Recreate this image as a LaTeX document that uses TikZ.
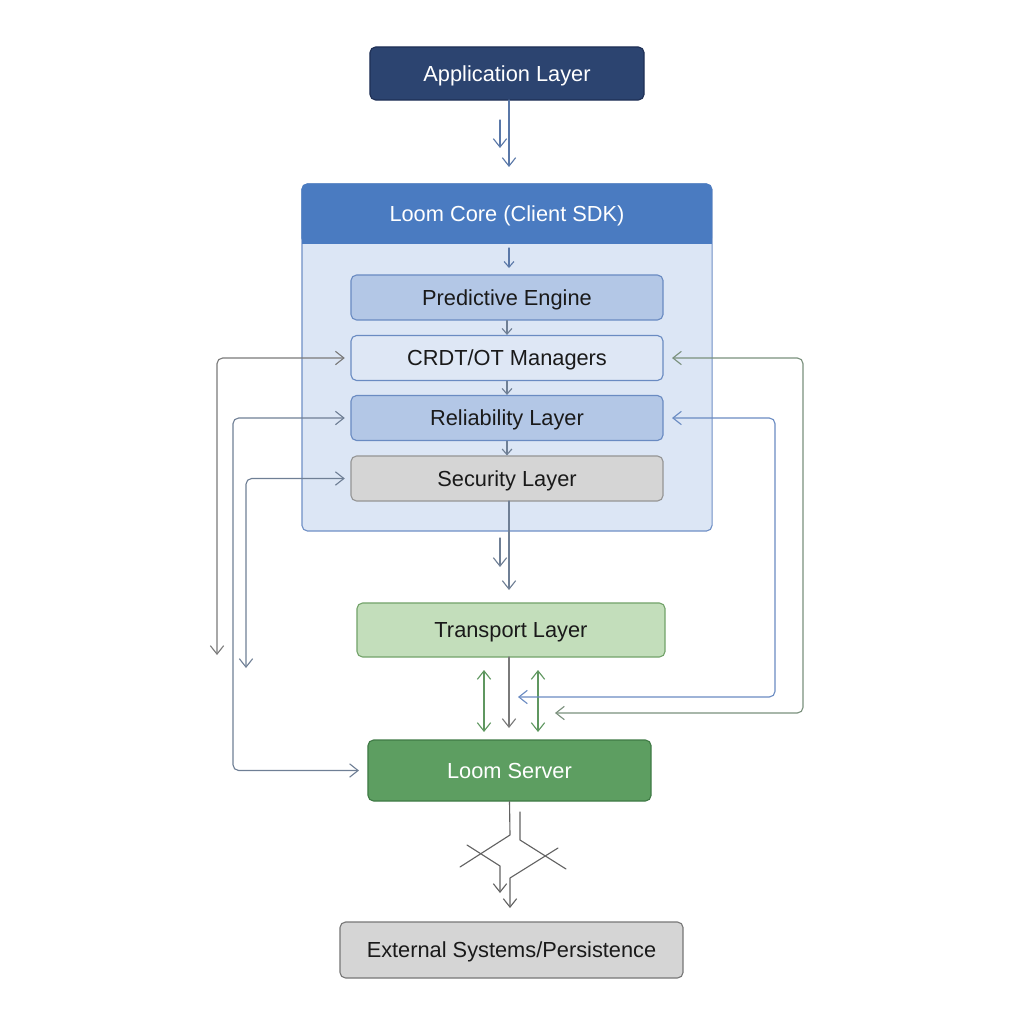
\documentclass[tikz,border=0pt]{standalone}
\usepackage{fontspec}
\setmainfont{Liberation Sans}
\usetikzlibrary{arrows.meta}
\definecolor{navy}{HTML}{2C4470}
\definecolor{navyline}{HTML}{1E2F55}
\definecolor{headblue}{HTML}{4A7BC1}
\definecolor{bodyblue}{HTML}{DCE6F5}
\definecolor{bodyline}{HTML}{7090C6}
\definecolor{midblue}{HTML}{B3C7E6}
\definecolor{paleblue}{HTML}{DEE7F5}
\definecolor{boxline}{HTML}{6A8BC2}
\definecolor{lightgray}{HTML}{D5D5D5}
\definecolor{grayline}{HTML}{959595}
\definecolor{palegreen}{HTML}{C3DEBB}
\definecolor{greenline}{HTML}{73A36A}
\definecolor{servergreen}{HTML}{5D9E61}
\definecolor{serverline}{HTML}{3F7A45}
\definecolor{arrblue}{HTML}{5A78A8}
\definecolor{arrgray}{HTML}{7A7A7A}
\definecolor{arrslate}{HTML}{6F7F95}
\definecolor{arrgreen}{HTML}{5F9760}
\definecolor{arrsage}{HTML}{7A907C}
\definecolor{textdark}{HTML}{1A1A1A}
\begin{document}
\begin{tikzpicture}[line cap=round,line join=round,x=0.025cm,y=-0.025cm,
	>={Straight Barb[length=6pt,width=9.5pt]},
	layer/.style={rounded corners=4pt,inner sep=0pt,line width=0.8pt,text=textdark,font=\fontsize{15.5}{18}\selectfont,text height=14.5pt,text depth=3.5pt},
	stack/.style={layer,minimum width=7.8cm,minimum height=1.125cm,draw=boxline},
	link/.style={line width=0.8pt},
	small/.style={link,-{Straight Barb[length=4pt,width=7pt]}},
	loop/.style={link,rounded corners=4pt,<->}]
	\useasboundingbox (0,0) rectangle (1024,1024);
	% client side
	\node[layer,fill=navy,draw=navyline,text=white,minimum width=6.85cm,minimum height=1.325cm] (app) at (507,73.5) {Application Layer};
	\node[layer,fill=bodyblue,draw=bodyline,minimum width=10.25cm,minimum height=8.675cm] (core) at (507,357.5) {};
	\fill[headblue,rounded corners=4pt] (core.north west) rectangle (712,244);
	\fill[headblue] (302,214) rectangle (712,244);
	\node[layer,text=white] (corehead) at (507,214) {Loom Core (Client SDK)};
	\node[stack,fill=midblue] (pred) at (507,297.5) {Predictive Engine};
	\node[stack,fill=paleblue] (crdt) at (507,358) {CRDT/OT Managers};
	\node[stack,fill=midblue] (rel) at (507,418) {Reliability Layer};
	\node[stack,fill=lightgray,draw=grayline] (sec) at (507,478.5) {Security Layer};
	% network and server side
	\node[layer,fill=palegreen,draw=greenline,minimum width=7.7cm,minimum height=1.35cm] (transport) at (511,630) {Transport Layer};
	\node[layer,fill=servergreen,draw=serverline,text=white,minimum width=7.075cm,minimum height=1.525cm] (server) at (509.5,770.5) {Loom Server};
	\node[layer,fill=lightgray,draw=grayline!80!black,minimum width=8.575cm,minimum height=1.4cm] (ext) at (511.5,950) {External Systems/Persistence};
	% free ends
	\coordinate (appout) at (509,167);
	\coordinate (appa) at (500,120);
	\coordinate (appb) at (500,148);
	\coordinate (headout) at (509,248);
	\coordinate (predin) at (509,268);
	\coordinate (secout) at (509,590);
	\coordinate (seca) at (500,538);
	\coordinate (secb) at (500,567);
	\coordinate (lefta) at (217,655);
	\coordinate (leftb) at (233,600);
	\coordinate (leftc) at (246,668);
	\coordinate (rightout) at (803,600);
	\coordinate (rightin) at (775,600);
	\coordinate (greenend) at (555,713);
	\coordinate (blueend) at (518,697);
	\coordinate (tl) at (484,670);
	\coordinate (sl) at (484,732);
	\coordinate (tr) at (538,670);
	\coordinate (sr) at (538,732);
	\coordinate (tsmid) at (509,728);
	% vertical flow
	\draw[link,->,arrblue] (509,100) -- (appout);
	\draw[link,->,arrblue] (appa) -- (appb);
	\draw[small,arrblue] (headout) -- (predin);
	\draw[small,arrslate] (pred.south) -- (crdt.north);
	\draw[small,arrslate] (crdt.south) -- (rel.north);
	\draw[small,arrslate] (rel.south) -- (sec.north);
	\draw[link,->,arrslate] (509,501) -- (secout);
	\draw[link,->,arrslate] (seca) -- (secb);
	\draw[link,<->,arrgreen] (tl) -- (sl);
	\draw[link,<->,arrgreen] (tr) -- (sr);
	\draw[link,->,arrgray] (509,657) -- (tsmid);
	% side loops
	\draw[loop,arrgray,shorten >=4pt] (lefta) |- (crdt.west);
	\draw[loop,arrslate,shorten <=4pt,shorten >=6pt] (rel.west) -| (leftb) |- (server.west);
	\draw[loop,arrslate,shorten <=4pt] (sec.west) -| (leftc);
	\draw[loop,arrsage,shorten <=6pt] (crdt.east) -| (rightout) |- (greenend);
	\draw[loop,boxline,shorten <=6pt] (rel.east) -| (rightin) |- (blueend);
	% server to external systems
	\draw[link,arrgray!80!black] (server.south) -- (510,835) -- (460,867);
	\draw[link,->,arrgray!80!black] (467,845) -- (500,866) -- (500,893);
	\draw[link,arrgray!80!black] (520,812) -- (520,840) -- (566,869);
	\draw[link,->,arrgray!80!black] (558,848) -- (510,878) -- (510,908);
\end{tikzpicture}
\end{document}
